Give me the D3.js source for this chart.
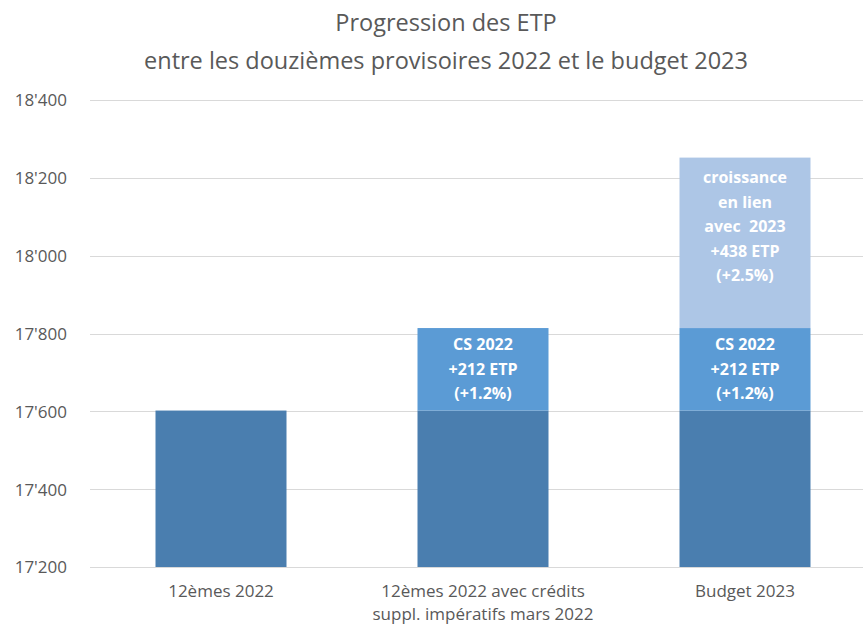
<!DOCTYPE html>
<html lang="fr">
<head>
  <meta charset="utf-8">
  <title>Progression des ETP</title>
  <script src="https://cdnjs.cloudflare.com/ajax/libs/d3/7.8.5/d3.min.js"></script>
  <style>
    html, body { margin: 0; padding: 0; background: #fff; overflow: hidden; }
    text { font-family: "Open Sans", "Noto Sans", sans-serif; }
    .title { fill: #595959; font-size: 23.5px; }
    .tick text { fill: #595959; font-size: 17px; }
    .seglabel { fill: #fff; font-size: 16px; font-weight: bold; white-space: pre; }
  </style>
</head>
<body>
<svg id="chart" width="863" height="625"></svg>
<script>
// chart values
var categories = ["12èmes 2022", "12èmes 2022 avec crédits\nsuppl. impératifs mars 2022", "Budget 2023"];
var baseValues = [17602, 17602, 17602];
var csValues = [0, 212, 212];
var croissanceValues = [0, 0, 438];
var yTicks = [17200, 17400, 17600, 17800, 18000, 18200, 18400];
var csLabel = ["CS 2022", "+212 ETP", "(+1.2%)"];
var croissanceLabel = ["croissance", "en lien", "avec  2023", "+438 ETP", "(+2.5%)", ""];
var titleLines = ["Progression des ETP", "entre les douzièmes provisoires 2022 et le budget 2023"];

var svg = d3.select("#chart");
var plotLeft = 90, plotRight = 863, plotTop = 100, plotBottom = 567;

var x = d3.scaleBand().domain(categories).range([90, 876]).paddingInner(0.5).paddingOuter(0.25);
var y = d3.scaleLinear().domain([17200, 18400]).range([plotBottom, plotTop]);

// title
svg.selectAll("text.title").data(titleLines).enter().append("text")
  .attr("class", "title")
  .attr("x", 446).attr("y", function(d, i) { return 31 + i * 38; })
  .attr("text-anchor", "middle")
  .text(function(d) { return d; });

// gridlines
svg.append("g").selectAll("line").data(yTicks).enter().append("line")
  .attr("x1", plotLeft).attr("x2", plotRight)
  .attr("y1", function(d) { return Math.round(y(d)) + 0.5; })
  .attr("y2", function(d) { return Math.round(y(d)) + 0.5; })
  .attr("stroke", "#d9d9d9").attr("stroke-width", 1);

// y axis
var yAxis = d3.axisLeft(y).tickValues(yTicks).tickSize(0).tickPadding(0)
  .tickFormat(function(d) { return d3.format(",")(d).replace(",", "'"); });
var yg = svg.append("g").attr("transform", "translate(67,0)").call(yAxis);
yg.select(".domain").remove();
yg.selectAll("text").attr("dy", "0.35em");

// stacked segments
var stackData = categories.map(function(c, i) {
  return { cat: c, base: baseValues[i], cs: csValues[i], croissance: croissanceValues[i] };
});
var series = d3.stack().keys(["base", "cs", "croissance"])(stackData);
var colors = { base: "#4a7eaf", cs: "#5b9bd5", croissance: "#adc6e6" };

svg.append("g").selectAll("g").data(series).enter().append("g")
  .attr("fill", function(s) { return colors[s.key]; })
  .selectAll("rect").data(function(s) { return s; }).enter().append("rect")
  .attr("x", function(d) { return x(d.data.cat); })
  .attr("width", x.bandwidth())
  .attr("y", function(d) { return y(Math.max(d[1], 17200)); })
  .attr("height", function(d) { return y(Math.max(d[0], 17200)) - y(Math.max(d[1], 17200)); });

// segment labels
var lineH = 24.5;
function addLabel(cat, lo, hi, lines, shift) {
  var cy = (y(lo) + y(hi)) / 2 + shift;
  var t = svg.append("text").attr("class", "seglabel").attr("text-anchor", "middle");
  lines.forEach(function(l, i) {
    t.append("tspan")
      .attr("x", x(cat) + x.bandwidth() / 2)
      .attr("y", cy + (i - (lines.length - 1) / 2) * lineH)
      .attr("dy", "0.35em")
      .text(l);
  });
}
series[1].forEach(function(d) {
  if (d.data.cs > 0) addLabel(d.data.cat, d[0], d[1], csLabel, 0);
});
series[2].forEach(function(d) {
  if (d.data.croissance > 0) addLabel(d.data.cat, d[0], d[1], croissanceLabel, -4);
});

// x axis labels
var xAxis = d3.axisBottom(x).tickSize(0).tickPadding(0).tickFormat("");
var xg = svg.append("g").attr("transform", "translate(0," + plotBottom + ")").call(xAxis);
xg.select(".domain").remove();
xg.selectAll(".tick").each(function(c) {
  var t = d3.select(this).append("text")
    .attr("fill", "#595959").attr("text-anchor", "middle");
  c.split("\n").forEach(function(l, i) {
    t.append("tspan").attr("x", 0).attr("y", 30 + i * 23).text(l);
  });
});
</script>
</body>
</html>
